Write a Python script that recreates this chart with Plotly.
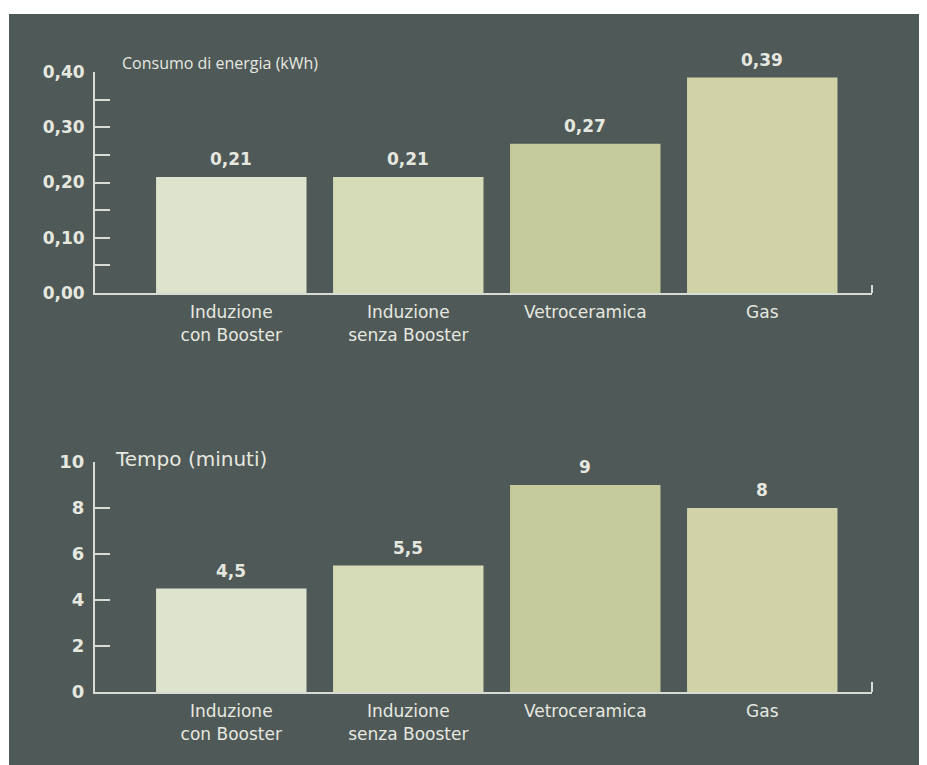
import plotly.graph_objects as go

# ---- data ----
categories = ["Induzione<br>con Booster", "Induzione<br>senza Booster", "Vetroceramica", "Gas"]
energy_kwh = [0.21, 0.21, 0.27, 0.39]
time_min = [4.5, 5.5, 9, 8]
energy_ticks = [0.0, 0.1, 0.2, 0.3, 0.4]
time_ticks = [0, 2, 4, 6, 8, 10]
energy_title = "Consumo di energia (kWh)"
time_title = "Tempo (minuti)"

bar_colors = ["#dde3cc", "#d6dbb8", "#c5cb9c", "#d0d3a8"]
bg = "#4f5957"
fg = "#e6e8e0"
axis_col = "#d9dcd4"

W, H = 927, 765
OFF = 8  # page body margin


def px(x):
    return (x - OFF) / W


def py(y):
    return (H - (y - OFF)) / H


def fmt(v, dec=None):
    s = f"{v:.{dec}f}" if dec is not None else f"{v:g}"
    return s.replace(".", ",")


fig = go.Figure()

fig.add_trace(go.Bar(
    x=categories, y=energy_kwh, xaxis="x", yaxis="y",
    marker=dict(color=bar_colors, line=dict(width=0)),
    width=0.85, hoverinfo="skip", showlegend=False,
))
fig.add_trace(go.Bar(
    x=categories, y=time_min, xaxis="x2", yaxis="y2",
    marker=dict(color=bar_colors, line=dict(width=0)),
    width=0.85, hoverinfo="skip", showlegend=False,
))

value_font = dict(family="DejaVu Sans", size=17, color=fg, weight="bold")
annotations = []
for c, v in zip(categories, energy_kwh):
    annotations.append(dict(text=fmt(v, 2), x=c, y=v, xref="x", yref="y",
                            xanchor="center", yanchor="middle", yshift=18,
                            showarrow=False, font=value_font))
for c, v in zip(categories, time_min):
    annotations.append(dict(text=fmt(v), x=c, y=v, xref="x2", yref="y2",
                            xanchor="center", yanchor="middle", yshift=18,
                            showarrow=False, font=value_font))

xdom = [px(95), px(872)]
top_dom = [py(293), py(72)]
bot_dom = [py(692), py(462)]
xrange = [-0.77, 3.62]

xcommon = dict(
    domain=xdom, range=xrange, type="category", automargin=False,
    showline=True, linecolor=axis_col, linewidth=2,
    showgrid=False, zeroline=False, ticks="",
    tickfont=dict(family="DejaVu Sans", size=17, color=fg),
    ticklabelstandoff=3,
    fixedrange=True,
)
ycommon = dict(
    automargin=False,
    showline=True, linecolor=axis_col, linewidth=2,
    showgrid=False, zeroline=False,
    ticks="inside", ticklen=15, tickwidth=2, tickcolor=axis_col,
    tickfont=dict(family="DejaVu Sans", size=17, color=fg, weight="bold"),
    ticklabelstandoff=5,
    fixedrange=True,
)

annotations += [
    dict(text=energy_title, xref="paper", yref="y", x=px(120), y=0.40,
         xanchor="left", yanchor="middle", yshift=9, showarrow=False,
         font=dict(family="Open Sans", size=16, color=fg)),
    dict(text=time_title, xref="paper", yref="y2", x=px(113), y=10,
         xanchor="left", yanchor="middle", yshift=3, showarrow=False,
         font=dict(family="DejaVu Sans", size=20, color=fg)),
]

fig.update_layout(
    template="none",
    width=W, height=H, autosize=False,
    margin=dict(l=0, r=0, t=0, b=0, pad=0, autoexpand=False),
    paper_bgcolor="white", plot_bgcolor="rgba(0,0,0,0)",
    separators=",.",
    xaxis=dict(**xcommon, anchor="y"),
    yaxis=dict(**ycommon, domain=top_dom, range=[0, 0.40], tickvals=energy_ticks,
               tickformat=".2f", anchor="x",
               minor=dict(ticks="inside", ticklen=15, tickwidth=2, tickcolor=axis_col,
                          dtick=0.05, tick0=0, showgrid=False)),
    xaxis2=dict(**xcommon, anchor="y2"),
    yaxis2=dict(**ycommon, domain=bot_dom, range=[0, 10], tickvals=time_ticks,
                tickfont_size=18, anchor="x2"),
    shapes=[
        dict(type="rect", xref="paper", yref="paper", x0=px(9), x1=1.0, y0=-0.05, y1=py(14),
             fillcolor=bg, line=dict(width=0), layer="below"),
        dict(type="line", xref="x domain", yref="y domain", x0=1, x1=1, y0=0, y1=8 / 221,
             line=dict(color=axis_col, width=2)),
        dict(type="line", xref="x2 domain", yref="y2 domain", x0=1, x1=1, y0=0, y1=10 / 230,
             line=dict(color=axis_col, width=2)),
    ],
    annotations=annotations,
)

fig.write_html("out.html")
